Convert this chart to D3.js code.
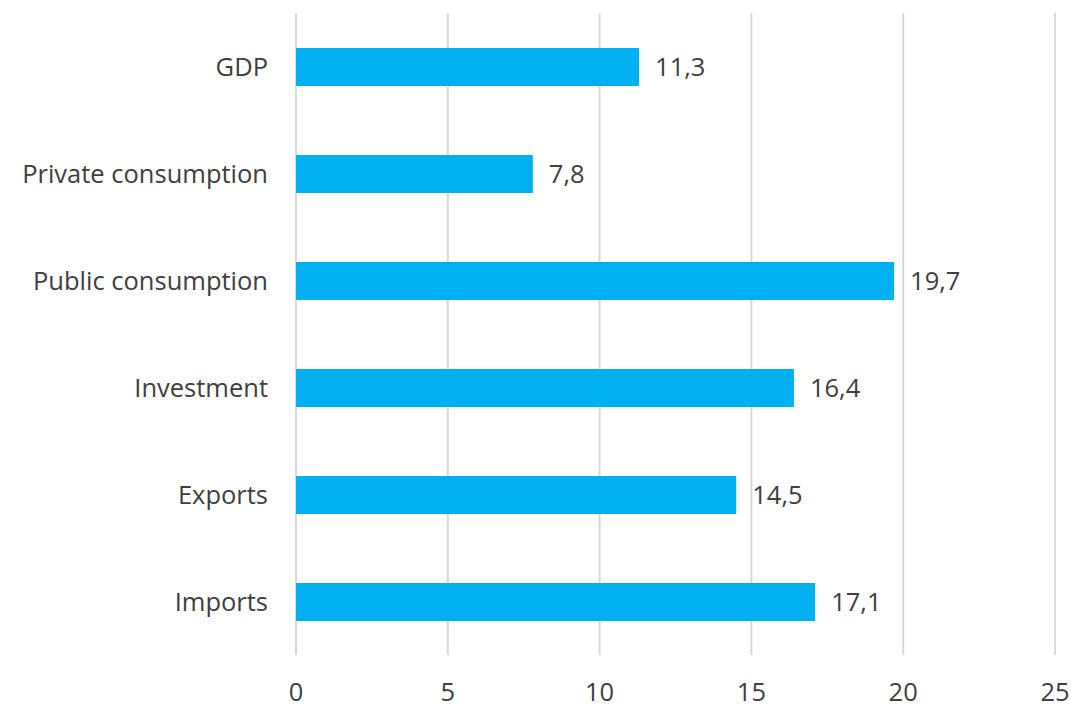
<!DOCTYPE html>
<html><head><meta charset="utf-8">
<script src="https://cdn.jsdelivr.net/npm/d3@7/dist/d3.min.js"></script>
<style>body{margin:0;background:#fff}svg{display:block}text{font-family:"Open Sans",sans-serif;fill:#404040}</style>
</head><body><svg id="c" width="1071" height="704"></svg>
<script>
const categories = ["GDP","Private consumption","Public consumption","Investment","Exports","Imports"];
const values = [11.3,7.8,19.7,16.4,14.5,17.1];
const tickValues = [0,5,10,15,20,25];

const svg = d3.select("#c");
const x = d3.scaleLinear().domain([0,25]).range([296,1055]);
const y = d3.scaleBand().domain(categories).range([13.5,655.5]).paddingInner(0.645).paddingOuter(0.3225);
const fs = 25.5;
svg.append("g").selectAll("line").data(tickValues).join("line")
  .attr("x1",d=>x(d)).attr("x2",d=>x(d)).attr("y1",13).attr("y2",655)
  .attr("stroke","#d9d9d9").attr("stroke-width",2);
svg.append("g").selectAll("rect").data(values).join("rect")
  .attr("x",x(0)).attr("y",(d,i)=>y(categories[i])).attr("width",d=>x(d)-x(0)).attr("height",y.bandwidth())
  .attr("fill","#00B0F0");
svg.append("g").selectAll("text").data(values).join("text")
  .attr("x",d=>x(d)+16).attr("y",(d,i)=>y(categories[i])+y.bandwidth()/2).attr("dy","0.35em")
  .attr("font-size",fs).text(d=>d.toFixed(1).replace(".",","));
svg.append("g").selectAll("text").data(categories).join("text")
  .attr("x",268).attr("y",d=>y(d)+y.bandwidth()/2).attr("dy","0.35em").attr("text-anchor","end")
  .attr("font-size",fs).text(d=>d);
svg.append("g").selectAll("text").data(tickValues).join("text")
  .attr("x",d=>x(d)).attr("y",701).attr("text-anchor","middle")
  .attr("font-size",fs).text(d=>d);
</script></body></html>
